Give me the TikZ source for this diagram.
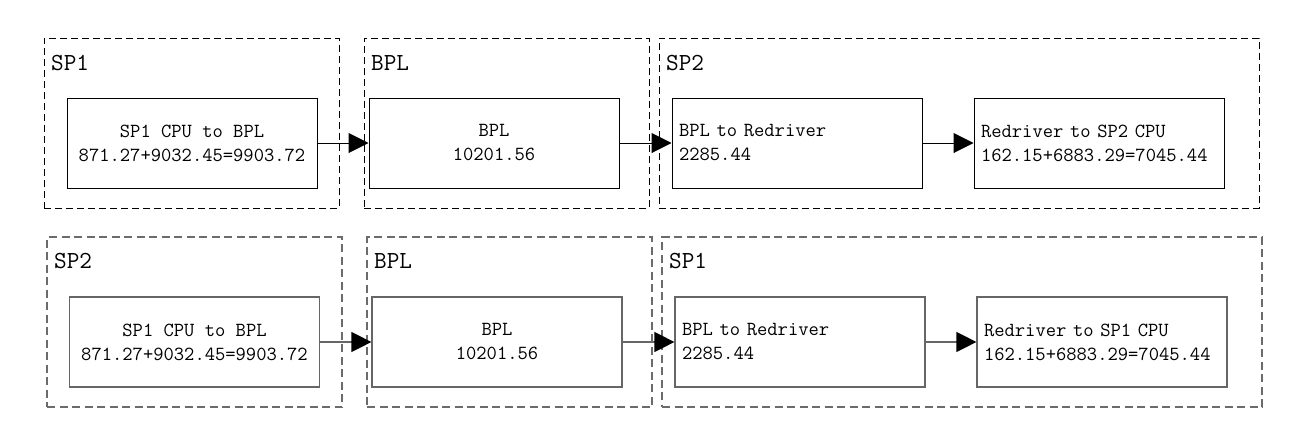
\documentclass[tikz,border=0pt]{standalone}
\usepackage{fontspec}
\usetikzlibrary{arrows.meta}
\tikzset{
  grpA/.style={draw=black, line width=1pt, dash pattern=on 7pt off 4pt, minimum height=170pt, inner sep=0pt},
  grpB/.style={draw=black!58, line width=1.2pt, dash pattern=on 8pt off 4.5pt, minimum height=170pt, inner sep=0pt},
  boxA/.style={draw=black, line width=1pt, minimum width=250pt, minimum height=90pt, inner sep=0pt,
    font=\ttfamily\fontsize{20pt}{24pt}\selectfont},
  boxB/.style={boxA, draw=black!60, line width=1.2pt},
  ctext/.style={align=center},
  ltext/.style={align=left, text width=236pt},
  title/.style={anchor=base west, inner sep=0pt, font=\ttfamily\fontsize{24.5pt}{26pt}\selectfont},
  arrA/.style={-{Triangle[length=20pt,width=20pt]}, line width=1pt},
  arrB/.style={-{Triangle[length=20pt,width=20pt,color=black]}, line width=1.2pt, draw=black!60},
}
\begin{document}
\begin{tikzpicture}[x=1pt, y=-1pt]
\useasboundingbox (0,0) rectangle (1293,426);
% top row
\node[grpA, minimum width=295pt] (g1) at (191.5,123) {};
\node[grpA, minimum width=285pt] (g2) at (506.5,123) {};
\node[grpA, minimum width=600pt] (g3) at (959,123) {};
\node[title] (t1) at (51,70) {SP1};
\node[title] (t2) at (371,70) {BPL};
\node[title] (t3) at (666,70) {SP2};
\node[boxA, ctext] (b1) at (192,143) {SP1 CPU to BPL\\871.27+9032.45=9903.72};
\node[boxA, ctext] (b2) at (494,143) {BPL\\10201.56};
\node[boxA, ltext] (b3) at (797,143) {BPL to Redriver\\2285.44};
\node[boxA, ltext] (b4) at (1099,143) {Redriver to SP2 CPU\\162.15+6883.29=7045.44};
\draw[arrA] (b1) -- (b2);
\draw[arrA] (b2) -- (b3);
\draw[arrA] (b3) -- (b4);
% bottom row
\node[grpB, minimum width=295pt] (h1) at (194.5,322) {};
\node[grpB, minimum width=285pt] (h2) at (509.5,322) {};
\node[grpB, minimum width=600pt] (h3) at (962,322) {};
\node[title] (u1) at (54,268) {SP2};
\node[title] (u2) at (374,268) {BPL};
\node[title] (u3) at (669,268) {SP1};
\node[boxB, ctext] (c1) at (194.5,342) {SP1 CPU to BPL\\871.27+9032.45=9903.72};
\node[boxB, ctext] (c2) at (497,342) {BPL\\10201.56};
\node[boxB, ltext] (c3) at (800,342) {BPL to Redriver\\2285.44};
\node[boxB, ltext] (c4) at (1102,342) {Redriver to SP1 CPU\\162.15+6883.29=7045.44};
\draw[arrB] (c1) -- (c2);
\draw[arrB] (c2) -- (c3);
\draw[arrB] (c3) -- (c4);
\end{tikzpicture}
\end{document}
